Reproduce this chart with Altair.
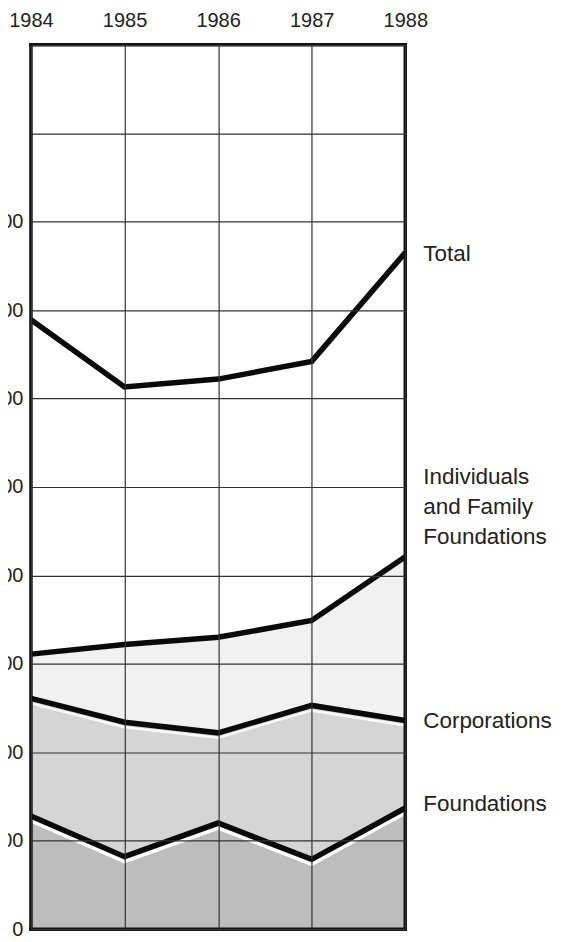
import altair as alt
import pandas as pd

years = [1984, 1985, 1986, 1987, 1988]
total = [689, 613, 622, 642, 765]
individuals = [311, 322, 330, 349, 421]
corporations = [261, 234, 222, 253, 236]
foundations = [128, 82, 120, 79, 137]
y_ticks = [0, 100, 200, 300, 400, 500, 600, 700, 800, 900, 1000]
y_max = 1000

df = pd.DataFrame({
    "year": years,
    "total": total,
    "individuals": individuals,
    "corporations": corporations,
    "foundations": foundations,
})

FONT = "Liberation Sans"
W, H = 375, 886

xs = alt.Scale(domain=[min(years), max(years)], nice=False, zero=False)
ys = alt.Scale(domain=[0, y_max], nice=False)

x_axis = alt.Axis(orient="top", values=years, format="d", title=None, tickSize=0,
                  labelPadding=14, labelFontSize=20, labelFont=FONT, labelColor="#222",
                  domain=False, grid=True, gridColor="#333", gridWidth=1.2, zindex=1,
                  labelFlush=False)
y_axis = alt.Axis(orient="left", values=y_ticks, title=None, tickSize=0,
                  labelPadding=8, labelFontSize=20, labelFont=FONT, labelColor="#222",
                  labelExpr="datum.value > 800 ? '' : datum.label", format="d",
                  domain=False, grid=True, gridColor="#333", gridWidth=1.2, zindex=1)

base = alt.Chart(df)
X = alt.X("year:Q", scale=xs, axis=x_axis)


def area(field, color):
    return base.mark_area(color=color, opacity=1).encode(
        x=X, y=alt.Y(f"{field}:Q", scale=ys, axis=y_axis))


def line(field, color, width, offset=0, opacity=1.0):
    return base.mark_line(color=color, strokeWidth=width, yOffset=offset,
                          opacity=opacity, strokeJoin="miter").encode(
        x=X, y=alt.Y(f"{field}:Q", scale=ys, axis=y_axis))


def label(field, text, dy):
    return base.transform_filter(alt.datum.year == max(years)).mark_text(
        text=text, align="left", baseline="middle", dx=18, dy=dy,
        fontSize=22.5, font=FONT, color="#222", lineBreak="\n", lineHeight=30
    ).encode(x=X, y=alt.Y(f"{field}:Q", scale=ys, axis=y_axis))


frame_v = alt.Chart(pd.DataFrame({"year": [min(years), max(years)],
                                  "lo": [0, 0], "hi": [y_max, y_max]})).mark_rule(
    color="#111", strokeWidth=3.5, strokeCap="square").encode(
    x=alt.X("year:Q", scale=xs, axis=x_axis),
    y=alt.Y("lo:Q", scale=ys, axis=y_axis), y2="hi:Q")
frame_h = alt.Chart(pd.DataFrame({"v": [0, y_max], "a": [min(years)] * 2,
                                  "b": [max(years)] * 2})).mark_rule(
    color="#111", strokeWidth=3.5, strokeCap="square").encode(
    x=alt.X("a:Q", scale=xs, axis=x_axis), x2="b:Q",
    y=alt.Y("v:Q", scale=ys, axis=y_axis))

chart = alt.layer(
    area("individuals", "#f1f1f1"),
    area("corporations", "#d5d5d5"),
    area("foundations", "#bdbdbd"),
    line("corporations", "#ffffff", 2.5, 5, 0.85),
    line("foundations", "#ffffff", 3.5, 5),
    line("total", "#0a0a0a", 5.5),
    line("individuals", "#0a0a0a", 5.5),
    line("corporations", "#0a0a0a", 5.5),
    line("foundations", "#0a0a0a", 5.5),
    frame_v,
    frame_h,
    label("total", "Total", 1),
    label("individuals", "Individuals\nand Family\nFoundations", -80),
    label("corporations", "Corporations", 1),
    label("foundations", "Foundations", -4),
).properties(
    width=W, height=H,
    autosize=alt.AutoSizeParams(type="none"),
    padding={"left": 23, "top": 36, "right": 150, "bottom": 12},
).configure_view(stroke=None).configure(background="white")

chart.save("out.html", embed_options={"renderer": "svg", "actions": False})
